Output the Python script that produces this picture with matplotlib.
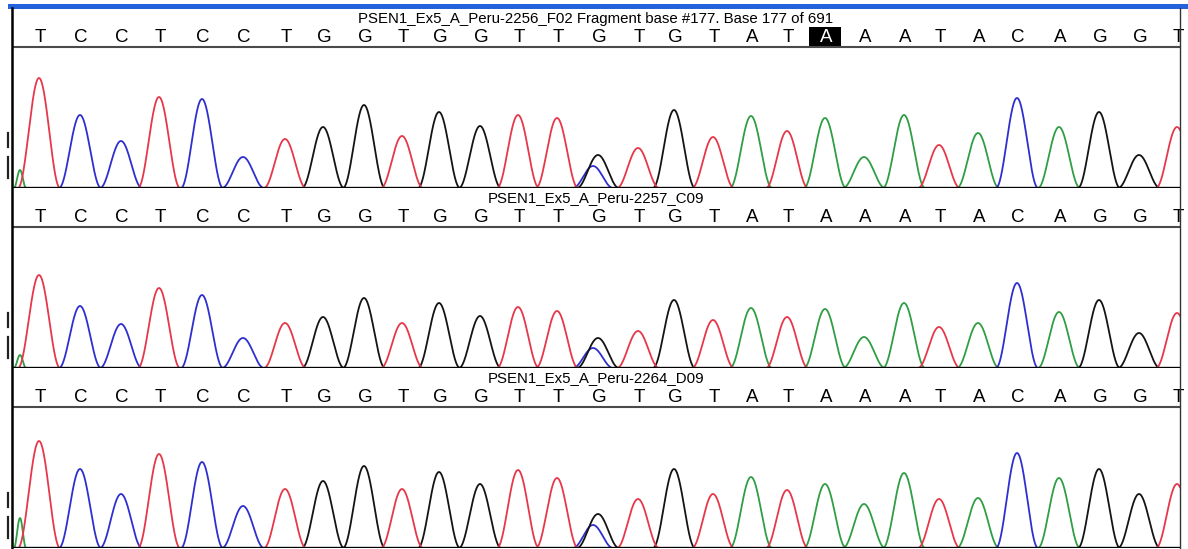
import numpy as np
import matplotlib
matplotlib.use("Agg")
import matplotlib.pyplot as plt
from matplotlib.patches import Rectangle
from matplotlib.lines import Line2D

# ---------------- data ----------------
bases = list("TCCTCCTGGTGGTTGTGTATAAATACAGGT")
peak_pos = [39, 80, 121, 159, 202, 243, 285, 323, 364, 402, 439, 480, 518, 557,
            598, 638, 674, 713, 751, 787, 825, 864, 904, 939, 978, 1017, 1059,
            1099, 1139, 1177]

titles = ["PSEN1_Ex5_A_Peru-2256_F02 Fragment base #177. Base 177 of 691",
          "PSEN1_Ex5_A_Peru-2257_C09",
          "PSEN1_Ex5_A_Peru-2264_D09"]

heights_2256 = [110, 73, 47, 91, 89, 31, 49, 61, 83, 52, 76, 62, 73, 70, 33, 40,
                78, 51, 72, 57, 70, 31, 73, 43, 55, 90, 61, 76, 33, 61]
heights_2257 = [93, 62, 44, 80, 73, 30, 45, 51, 70, 45, 65, 52, 61, 57, 30, 37,
                68, 48, 60, 51, 59, 31, 65, 41, 45, 85, 56, 68, 35, 55]
heights_2264 = [107, 79, 54, 94, 86, 42, 59, 67, 82, 59, 76, 64, 78, 70, 34, 49,
                79, 54, 71, 58, 64, 44, 75, 49, 50, 95, 70, 79, 54, 64]
panel_heights = [heights_2256, heights_2257, heights_2264]

# secondary (heterozygous) C signal under the G call
het_base = "C"
het_pos = 593
het_heights = [22, 20, 23]

# small A signal at the start of each trace
start_base = "A"
start_pos = 20
start_heights = [18, 13, 30]

highlight_index = 20  # selected base in first trace

channel_colors = {"A": "#2f9e44", "C": "#2f2fd0", "G": "#141414", "T": "#e6384a"}

# ---------------- layout ----------------
W, H = 1188, 549
DPI = 100
fig = plt.figure(figsize=(W / DPI, H / DPI), dpi=DPI)
fig.patch.set_facecolor("white")

x_left, x_right = 12, 1180
panel_tops = [8, 188, 368]
panel_h = 180
trace_top = 141
letter_y = 151
title_y = 169.5

font = ["Liberation Sans Narrow", "Liberation Sans", "DejaVu Sans"]


def pulse(x, center, height, half_width):
    d = (x - center) / half_width
    return np.where(np.abs(d) < 1, height * np.cos(d * np.pi / 2) ** 2, 0.0)


x = np.linspace(x_left, x_right, 4000)

for i in range(3):
    top = panel_tops[i]
    ax = fig.add_axes([x_left / W, 1 - (top + panel_h) / H,
                       (x_right - x_left) / W, panel_h / H])
    ax.set_xlim(x_left, x_right)
    ax.set_ylim(0, panel_h)
    ax.axis("off")

    traces = {b: np.zeros_like(x) for b in "ACGT"}
    for b, p, h in zip(bases, peak_pos, panel_heights[i]):
        traces[b] += pulse(x, p, h, 21)
    traces[het_base] += pulse(x, het_pos, het_heights[i], 20)
    traces[start_base] += pulse(x, start_pos, start_heights[i], 6)

    for b in "ACGT":
        ax.plot(x, traces[b], color=channel_colors[b], lw=1.3, zorder=2,
                solid_joinstyle="round")

    ax.axhline(0, color="black", lw=2.4, zorder=4)
    ax.axhline(trace_top, color="#4a4a4a", lw=1.5, zorder=4)

    # base calls
    for j, (b, p) in enumerate(zip(bases, peak_pos)):
        col = "black"
        if i == 0 and j == highlight_index:
            ax.add_patch(Rectangle((p - 16, trace_top), 32, 20,
                                   facecolor="black", edgecolor="none", zorder=3))
            col = "white"
        ax.text(p + 1, letter_y - 1, b, ha="center", va="center", fontsize=13.5,
                family=font, color=col, zorder=5)

    ax.text((x_left + x_right) / 2, title_y, titles[i], ha="center",
            va="center", fontsize=10.8, family=font, color="black")

    # small left-side markers
    base_px = top + panel_h
    for y0, y1 in [(55, 41), (31, 10)]:
        fig.add_artist(Line2D([8 / W, 8 / W],
                              [1 - (base_px - y0) / H, 1 - (base_px - y1) / H],
                              color="#222222", lw=1.6))

# borders
fig.add_artist(Line2D([x_left / W, x_left / W], [0, 1 - 8 / H],
                      color="black", lw=1.8))
fig.add_artist(Line2D([x_right / W, x_right / W], [0, 1 - 8 / H],
                      color="#333333", lw=1.0))
fig.add_artist(Rectangle((8 / W, 1 - 9 / H), (W - 8) / W, 5 / H,
                         transform=fig.transFigure, facecolor="#2463dc",
                         edgecolor="none"))

fig.savefig("out.png", dpi=DPI, facecolor="white")
